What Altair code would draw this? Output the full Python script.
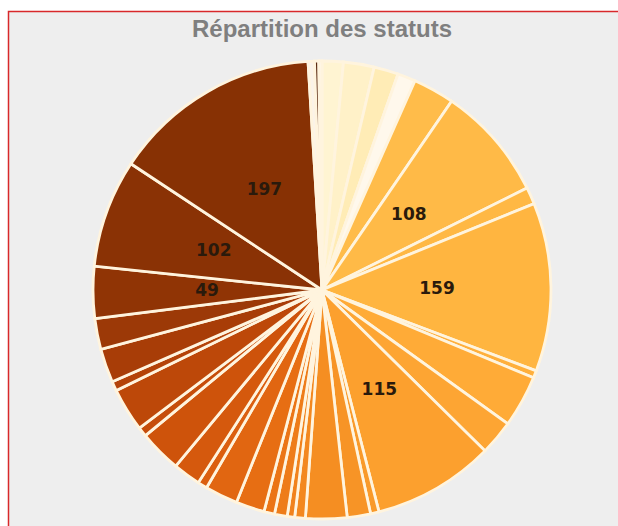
import altair as alt
import pandas as pd

# Slices, clockwise from 12 o'clock
statuts = [f"Statut {i}" for i in range(1, 36)]
valeurs = [20, 29, 23, 17, 39, 108, 16, 159, 7, 49, 33, 115, 8, 22, 39, 10, 7, 12,
           10, 27, 31, 9, 26, 40, 9, 41, 9, 32, 29, 49, 102, 197, 6, 4, 3]
etiquettes = ["", "", "", "", "", "108", "", "159", "", "", "", "115", "", "", "", "", "", "",
              "", "", "", "", "", "", "", "", "", "", "", "49", "102", "197", "", "", ""]
couleurs = ["#FFF4D2", "#FFF1C8", "#FFECB6", "#FFF8EC", "#FFBC4A", "#FFBA47", "#FFB844",
            "#FFB540", "#FFAF3B", "#FFAB37", "#FDA533", "#FCA02E", "#F99A2A", "#F79426",
            "#F58E22", "#F3881F", "#F1821C", "#EE7C19", "#EB7516", "#E76E13", "#E16611",
            "#DB5F0F", "#D5590D", "#CE530B", "#C64D0A", "#BD4809", "#B44308", "#A83D07",
            "#9C3907", "#903405", "#8A3205", "#873104", "#FBF3E8", "#5A2A12", "#FFF8EE"]

df = pd.DataFrame({
    "statut": statuts,
    "valeur": valeurs,
    "etiquette": etiquettes,
    "ordre": list(range(len(statuts))),
})

# panel frame (grey area with red border)
cadre = alt.Chart(alt.Data(values=[{"k": 1}])).mark_rect(
    fill="#EEEEEE", stroke="#D8282B", strokeWidth=1.5
).encode(
    x=alt.value(-17.5), y=alt.value(-42.5), x2=alt.value(800), y2=alt.value(800)
)

base = alt.Chart(df).encode(
    theta=alt.Theta("valeur:Q", stack=True),
    order=alt.Order("ordre:Q", sort="ascending"),
)

pie = base.mark_arc(outerRadius=229, stroke="#FFF4DE", strokeWidth=2.8).encode(
    color=alt.Color("statut:N", scale=alt.Scale(domain=statuts, range=couleurs), legend=None)
)

labels = base.mark_text(
    radius=115, font="DejaVu Sans", fontSize=17, fontWeight="bold", color="#2A1A0C"
).encode(text="etiquette:N")

chart = alt.layer(cadre, pie, labels).properties(
    width=592,
    height=472,
    padding={"left": 26, "top": 54, "right": 0, "bottom": 0},
    autosize=alt.AutoSizeParams(type="none"),
    background="#FFFFFF",
    title=alt.TitleParams(
        "Répartition des statuts",
        font="Liberation Sans",
        fontSize=24,
        fontWeight="bold",
        color="#7F7F7F",
        anchor="middle",
        frame="group",
        baseline="bottom",
        offset=-55,
    ),
).configure_view(strokeWidth=0)

chart.save("out.html", embed_options={"renderer": "svg", "actions": False})
